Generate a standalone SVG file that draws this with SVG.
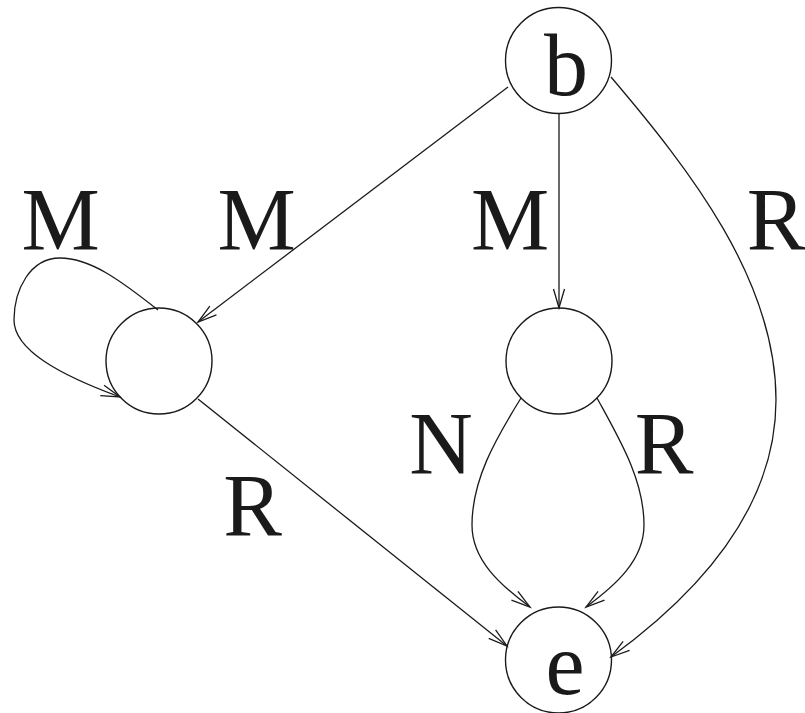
<svg xmlns="http://www.w3.org/2000/svg" width="805" height="713" viewBox="0 0 805 713">
<style>
.node{fill:none;stroke:#1a1a1a;stroke-width:1.4}
.edge{fill:none;stroke:#1a1a1a;stroke-width:1.3;marker-end:url(#arr)}
.lbl{font-family:'Liberation Serif','Times New Roman',Tinos,'Nimbus Roman','FreeSerif',Times,serif;font-size:88px;fill:#1a1a1a;text-anchor:middle}
</style>
<defs>
<marker id="arr" markerUnits="userSpaceOnUse" markerWidth="24" markerHeight="16" viewBox="-20 -8 24 16" refX="0" refY="0" orient="auto">
<path d="M-19,-5.5 L0,0 L-19,5.5" fill="none" stroke="#1a1a1a" stroke-width="1.3"/>
</marker>
</defs>
<rect width="805" height="713" fill="#fff"/>
<g id="node-b"><circle class="node" cx="558.5" cy="60.5" r="53"/><text class="lbl" x="566" y="95">b</text></g>
<g id="node-left"><circle class="node" cx="159" cy="361" r="53"/></g>
<g id="node-mid"><circle class="node" cx="559" cy="361" r="53"/></g>
<g id="node-e"><circle class="node" cx="558.5" cy="660" r="53"/><text class="lbl" x="565" y="694" font-size="82">e</text></g>
<g id="connectors">
<path class="edge" d="M508,87 L198,322"/>
<path class="edge" d="M559,113 L559,308"/>
<path class="edge" d="M611,77 C690,170 776,280 776,400 C776,500 710,585 611,657"/>
<path class="edge" d="M198,399 L507,646"/>
<path class="edge" d="M521,398 C495,440 472,480 472,525 C472,560 500,585 530,607"/>
<path class="edge" d="M597,398 C620,440 644,480 644,525 C644,560 616,585 586,607"/>
<path class="edge" d="M158,310 C120,280 90,258 60,258 C30,258 14,290 14,320 C14,350 60,375 120,397"/>
</g>
<g id="labels">
<text class="lbl" x="60.5" y="249">M</text>
<text class="lbl" x="256.5" y="249">M</text>
<text class="lbl" x="510" y="249">M</text>
<text class="lbl" x="776" y="249">R</text>
<text class="lbl" x="441" y="473">N</text>
<text class="lbl" x="664" y="473">R</text>
<text class="lbl" x="252.5" y="535">R</text>
</g>
</svg>
